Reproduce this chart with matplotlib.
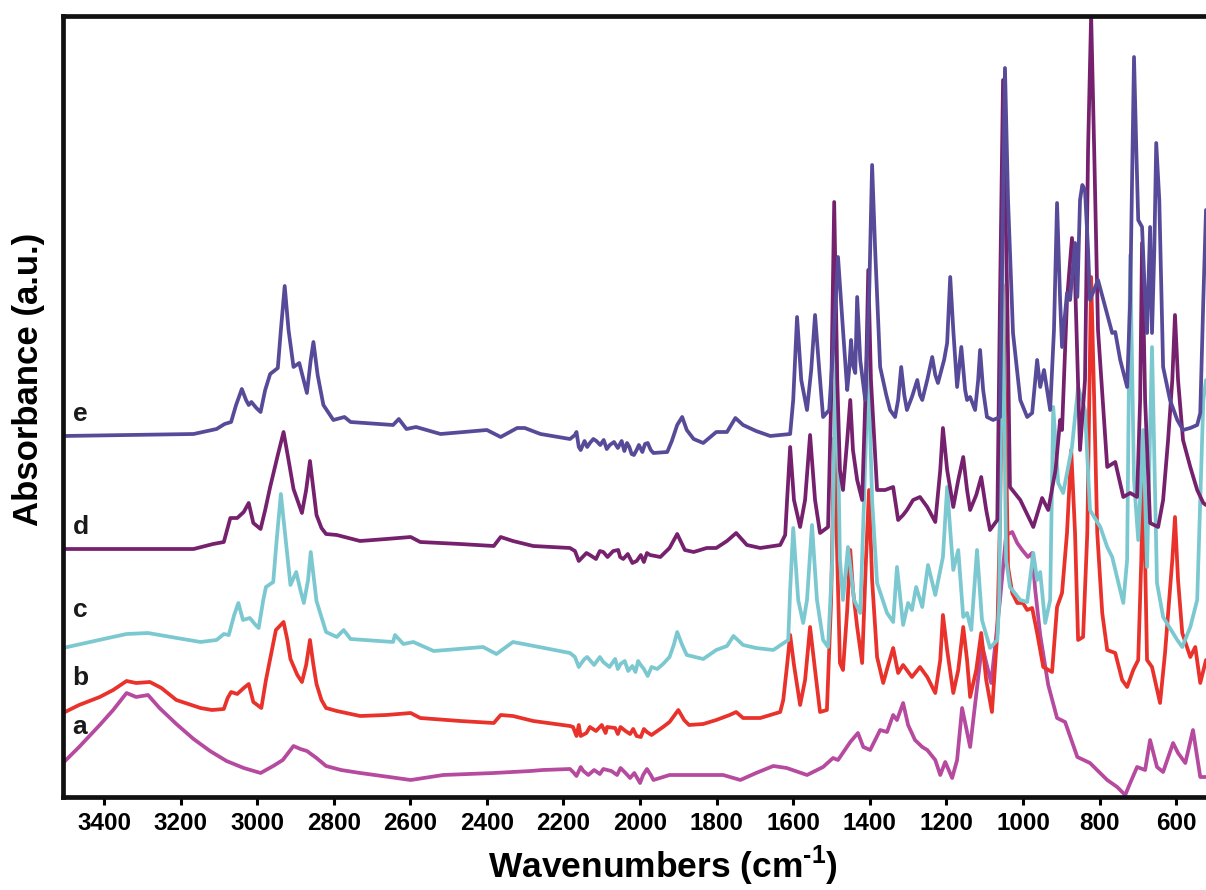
import matplotlib
matplotlib.use("Agg")
import matplotlib.pyplot as plt

plt.rcParams['font.family'] = ['Liberation Sans', 'DejaVu Sans']
plt.rcParams['mathtext.fontset'] = 'custom'
plt.rcParams['mathtext.bf'] = 'Liberation Sans:bold'
plt.rcParams['mathtext.rm'] = 'Liberation Sans'

# ---- spectrum a ----
wn_a = [3507, 3465, 3411, 3376, 3341, 3316, 3285, 3255, 3211, 3166, 3123, 3080, 3035, 2991, 2958, 2933, 2905, 2887,
        2870, 2845, 2820, 2781, 2731, 2655, 2599, 2514, 2382, 2286, 2254,
        2183, 2166, 2148, 2096, 2051, 2026, 2000, 1982, 1965, 1923, 1835, 1783, 1738, 1697, 1652, 1617,
        1564, 1522, 1496, 1483, 1451, 1431, 1417, 1399, 1373,
        1355, 1339, 1329, 1313, 1300, 1282, 1263, 1250, 1229, 1216, 1203, 1185, 1172, 1159, 1138, 1107, 1083, 1060,
        1044, 1028, 1015, 1002, 987, 976, 968, 955, 934, 911, 890, 858, 825, 780, 754, 733, 720, 702, 681, 668, 650,
        634, 608, 595, 576, 556, 537, 522]
abs_a = [34, 50, 72, 87, 104, 100, 102, 89, 73, 58, 46, 36, 29, 24, 31, 37, 51, 48,
         46, 39, 31, 27, 24, 20, 17, 22, 24, 26, 27,
         28, 21, 26, 28, 29, 19, 14, 28, 17, 22, 22, 22, 17, 24, 31, 29,
         22, 30, 39, 37, 55, 64, 50, 47, 67,
         65, 82, 77, 94, 72, 57, 50, 47, 37, 22, 35, 19, 37, 89, 50, 152, 114, 197,
         262, 265, 254, 247, 240, 244, 207, 162, 112, 79, 75, 40, 34, 17, 10, 2, 14, 30, 27, 57, 30,
         25, 54, 44, 34, 67, 20, 20]
wn_a_noise = [2175, 2155, 2135, 2120, 2105, 2075, 2060, 2038, 2015, 1992, 1972]
abs_a_noise = [25, 30, 22, 27, 23, 26, 22, 24, 24, 22, 22]

# ---- spectrum b ----
wn_b = [3507, 3465, 3411, 3376, 3341, 3316, 3280, 3250, 3211, 3148, 3118, 3087, 3077, 3068, 3052, 3035, 3022, 3010,
        2989, 2977, 2966, 2951, 2931, 2921, 2913, 2895, 2883, 2872, 2862, 2853, 2845, 2832, 2820, 2792, 2731, 2663,
        2599, 2574, 2470, 2382, 2364, 2332, 2279,
        2183, 2166, 2155, 2131, 2086, 2051, 2026, 2009, 1982, 1940, 1923,
        1900, 1885, 1872, 1835, 1801, 1766, 1749, 1731, 1686, 1634, 1626, 1616, 1608, 1598, 1582, 1569, 1556, 1543,
        1530, 1512, 1501, 1493, 1485, 1478, 1470, 1459, 1451, 1444, 1433, 1420, 1410, 1402, 1394, 1381, 1365, 1352,
        1339, 1326, 1313, 1290, 1269, 1250, 1229, 1216, 1209, 1198, 1182, 1169, 1156, 1146, 1138, 1122, 1109, 1096,
        1081, 1067, 1060, 1052, 1044, 1039, 1028, 1015, 1000, 989, 976, 963, 947, 924, 911, 898, 885, 874, 864, 856,
        843, 832, 822, 814, 806, 793, 780, 759, 741, 728, 712, 699, 691, 686, 681, 676, 663, 642, 629, 610, 603, 595,
        584, 563, 550, 537, 522]
abs_b = [84, 92, 100, 107, 116, 114, 115, 109, 97, 89, 87, 88, 99, 105, 103, 109, 113, 95,
         89, 117, 138, 167, 175, 157, 138, 122, 115, 132, 157, 132, 113, 97, 89, 86, 81, 82,
         84, 79, 76, 74, 82, 81, 76,
         71, 61, 61, 70, 70, 70, 63, 61, 65, 70, 75,
         87, 77, 72, 73, 77, 82, 85, 79, 79, 85, 97, 132, 162, 132, 92, 117, 170, 127,
         85, 87, 197, 359, 237, 134, 127, 187, 247, 207, 170, 134, 237, 307, 217, 140, 114, 132,
         149, 124, 132, 120, 130, 120, 104, 137, 182, 147, 104, 127, 170, 137, 100, 127, 164, 117,
         85, 164, 277, 512, 347, 230, 204, 194, 194, 187, 189, 164, 130, 125, 190, 204, 264, 347, 264, 157,
         160, 264, 520, 397, 264, 184, 147, 144, 117, 110, 127, 137, 237, 330, 237, 137, 130, 94, 144, 237, 280, 217,
         164, 140, 150, 114, 137]
wn_b_noise = [2175, 2160, 2140, 2115, 2100, 2090, 2065, 2058, 2038, 2018, 1998, 1990, 1970]
abs_b_noise = [70, 72, 64, 66, 72, 64, 69, 63, 66, 68, 60, 68, 62]

# ---- spectrum c ----
wn_c = [3507, 3413, 3341, 3285, 3225, 3148, 3106, 3087, 3074, 3060, 3049, 3037, 3019, 3004, 2996, 2984, 2977, 2958,
        2949, 2938, 2928, 2913, 2898, 2887, 2878, 2867, 2860, 2853, 2845, 2820, 2792, 2774, 2756, 2645, 2640, 2618,
        2592, 2539, 2410, 2375, 2332, 2304,
        2183, 2155, 2138, 2096, 2051, 2031, 2000, 1980, 1940, 1923, 1912, 1903,
        1890, 1878, 1835, 1801, 1773, 1756, 1731, 1697, 1652, 1613, 1608, 1600, 1587, 1574, 1564, 1551, 1538, 1522,
        1509, 1498, 1488, 1478, 1470, 1457, 1441, 1425, 1415, 1404, 1394, 1381, 1355, 1339, 1329, 1313, 1300, 1290,
        1279, 1263, 1248, 1229, 1209, 1198, 1190, 1182, 1169, 1156, 1146, 1135, 1120, 1107, 1086, 1067, 1062, 1054,
        1044, 1034, 1007, 989, 973, 963, 955, 942, 929, 921, 908, 895, 872, 856, 838, 825, 798, 780, 767, 738, 728,
        720, 710, 699, 686, 676, 663, 650, 634, 597, 584, 563, 545, 537, 529, 522]
abs_c = [149, 157, 163, 164, 160, 155, 157, 163, 162, 182, 194, 177, 179, 172, 169, 197, 210, 215,
         257, 303, 267, 212, 225, 207, 194, 217, 245, 222, 196, 165, 160, 167, 158, 155, 162, 153,
         155, 146, 150, 143, 155, 153,
         144, 133, 140, 135, 133, 126, 133, 121, 133, 140, 152, 165,
         152, 142, 138, 147, 151, 161, 152, 149, 147, 157, 207, 269, 197, 174, 197, 272, 197, 157,
         150, 237, 467, 237, 197, 250, 197, 184, 297, 432, 297, 214, 184, 175, 230, 172, 194, 187,
         210, 190, 232, 202, 240, 310, 267, 227, 247, 180, 184, 167, 247, 177, 149, 157, 197, 550,
         237, 210, 197, 195, 244, 217, 225, 174, 197, 390, 314, 304, 350, 410, 387, 287, 270, 250, 240, 194, 237,
         542, 317, 257, 367, 230, 450, 214, 180, 157, 150, 170, 197, 297, 397, 417]
wn_c_noise = [2170, 2160, 2145, 2120, 2105, 2080, 2065, 2058, 2040, 2020, 2012, 2005, 1990, 1970, 1955]
abs_c_noise = [140, 130, 138, 132, 140, 130, 138, 128, 136, 131, 125, 136, 128, 130, 128]

# ---- spectrum d ----
wn_d = [3507, 3166, 3115, 3087, 3070, 3052, 3035, 3022, 3010, 2991, 2979, 2966, 2946, 2931, 2918, 2905, 2892, 2883,
        2872, 2862, 2853, 2845, 2832, 2820, 2792, 2731, 2663, 2599, 2574, 2470, 2382, 2364, 2332, 2279,
        2183, 2155, 2131, 2096, 2057, 2044, 2009, 1974, 1947, 1923, 1903, 1883, 1860, 1826, 1801, 1773, 1749, 1721,
        1686, 1634,
        1621, 1616, 1608, 1598, 1582, 1569, 1556, 1543, 1530, 1509, 1501, 1493, 1485, 1478, 1470, 1459, 1451, 1444,
        1433, 1420, 1410, 1404, 1397, 1381, 1360, 1339, 1326, 1313, 1303, 1287, 1269, 1250, 1229, 1216, 1209, 1198,
        1182, 1169, 1156, 1146, 1138, 1122, 1109, 1096, 1086, 1067, 1060, 1052, 1041, 1034, 1007, 973, 950, 934, 915,
        903, 898, 885, 872, 864, 851, 838, 830, 822, 814, 804, 780, 759, 738, 720, 702, 694, 689, 681, 668, 647, 634,
        621, 610, 603, 595, 582, 563, 545, 529, 522]
abs_d = [248, 248, 253, 255, 279, 279, 285, 294, 274, 268, 287, 310, 342, 365, 337, 308, 294, 284,
         307, 336, 307, 282, 269, 263, 262, 256, 258, 260, 255, 253, 251, 260, 256, 251,
         249, 238, 242, 245, 247, 238, 236, 242, 240, 249, 263, 247, 245, 249, 249, 256, 264, 252,
         249, 252,
         262, 297, 350, 297, 270, 297, 362, 297, 264, 270, 397, 595, 417, 327, 307, 357, 397, 347,
         317, 297, 417, 527, 417, 307, 307, 310, 277, 282, 287, 297, 300, 290, 275, 327, 369, 327,
         290, 317, 340, 307, 287, 302, 320, 287, 267, 277, 497, 717, 497, 310, 297, 270, 299, 287, 327,
         377, 367, 497, 559, 517, 347, 417, 647, 782, 647, 467, 330, 335, 300, 304, 300, 397, 554, 397, 274, 270, 297,
         357, 417, 482, 417, 357, 330, 307, 294, 292]
wn_d_noise = [2170, 2160, 2140, 2115, 2105, 2085, 2070, 2052, 2032, 2020, 1998, 1990, 1982]
abs_d_noise = [246, 236, 244, 238, 246, 240, 246, 240, 243, 234, 242, 235, 244]

# ---- spectrum e ----
wn_e = [3507, 3166, 3106, 3085, 3068, 3055, 3040, 3029, 3022, 3015, 3002, 2991, 2979, 2966, 2946, 2938, 2928, 2918,
        2905, 2890, 2880, 2870, 2860, 2853, 2842, 2827, 2801, 2772, 2756, 2645, 2630, 2610, 2585, 2521, 2400, 2364,
        2321, 2301, 2260,
        2183, 2166, 2155, 2131, 2114, 2079, 2034, 2022, 2009, 1980, 1965, 1929, 1917, 1903, 1890,
        1878, 1860, 1835, 1801, 1773, 1751, 1731, 1697, 1660, 1608, 1600, 1590, 1579, 1564, 1553, 1543, 1532, 1522,
        1506, 1496, 1483, 1470, 1459, 1454, 1449, 1444, 1438, 1433, 1425, 1412, 1402, 1394, 1386, 1373, 1357, 1347,
        1334, 1326, 1318, 1310, 1303, 1290, 1276, 1269, 1263, 1250, 1237, 1229, 1222, 1206, 1198, 1190, 1182, 1172,
        1161, 1151, 1146, 1138, 1125, 1117, 1112, 1104, 1094, 1078, 1060, 1052, 1047, 1039, 1026, 1007, 989, 976,
        963, 955, 945, 929, 919, 911, 903, 898, 885, 877, 864, 858, 851, 845, 838, 830, 825, 804, 785, 767, 759, 746,
        728, 720, 710, 704, 699, 689, 681, 676, 668, 663, 657, 652, 644, 634, 616, 597, 582, 563, 545, 537, 529, 522]
abs_e = [361, 363, 368, 373, 375, 392, 408, 397, 392, 395, 389, 385, 407, 423, 429, 467, 511, 467,
         430, 434, 419, 404, 437, 455, 422, 392, 377, 380, 375, 372, 378, 368, 370, 363, 367, 360,
         369, 369, 363,
         358, 365, 347, 354, 356, 352, 354, 343, 347, 354, 344, 345, 356, 372, 380,
         367, 358, 354, 365, 365, 379, 372, 366, 361, 363, 397, 480, 417, 387, 427, 482, 427, 380,
         387, 447, 540, 467, 407, 427, 457, 432, 424, 500, 437, 397, 497, 632, 547, 430, 402, 387,
         380, 397, 430, 402, 387, 400, 417, 402, 397, 417, 440, 422, 414, 437, 454, 520, 467, 410,
         450, 407, 397, 400, 387, 417, 447, 407, 380, 377, 380, 597, 729, 597, 464, 397, 380, 384,
         437, 410, 427, 387, 467, 594, 497, 450, 504, 497, 554, 500, 597, 612, 607, 547, 497, 517, 490, 464, 465, 437,
         410, 497, 740, 647, 577, 570, 497, 464, 570, 464, 547, 654, 597, 430, 397, 377, 367, 369, 372, 384, 497, 587]
wn_e_noise = [2170, 2160, 2145, 2138, 2122, 2104, 2095, 2087, 2068, 2058, 2048, 2041, 2028, 2016, 2003, 1994,
              1987, 1972]
abs_e_noise = [362, 350, 356, 350, 358, 352, 357, 348, 355, 349, 356, 346, 350, 342, 352, 345, 353, 347]


def merged(wn, ab, wn_n, ab_n):
    pts = sorted(zip(list(wn) + list(wn_n), list(ab) + list(ab_n)), key=lambda p: -p[0])
    return [p[0] for p in pts], [p[1] for p in pts]


series = [
    (merged(wn_a, abs_a, wn_a_noise, abs_a_noise), '#B54A9E', 'a'),
    (merged(wn_b, abs_b, wn_b_noise, abs_b_noise), '#E8322B', 'b'),
    (merged(wn_c, abs_c, wn_c_noise, abs_c_noise), '#7CC8D0', 'c'),
    (merged(wn_d, abs_d, wn_d_noise, abs_d_noise), '#76216E', 'd'),
    (merged(wn_e, abs_e, wn_e_noise, abs_e_noise), '#574B99', 'e'),
]
label_pos = {'a': 70, 'b': 119, 'c': 187, 'd': 270, 'e': 383}

fig = plt.figure(figsize=(12.06, 8.90), dpi=100)
ax = fig.add_axes([63 / 1206, 1 - 797 / 890, 1 - 63 / 1206, (797 - 16) / 890])

for (wn, ab), col, lab in series:
    ax.plot(wn, ab, color=col, lw=2.7, solid_joinstyle='round', solid_capstyle='round')
    ax.text(3482, label_pos[lab], lab, fontsize=19, fontweight='bold', color='#1a1a1a',
            ha='left', va='center')

ax.set_xlim(3507, 522)
ax.set_ylim(0, 781)
ax.set_xticks([3400, 3200, 3000, 2800, 2600, 2400, 2200, 2000, 1800, 1600, 1400, 1200, 1000, 800, 600])
ax.set_yticks([])
ax.tick_params(axis='x', direction='out', length=6, width=2.2, labelsize=17.5, pad=5)
for lbl in ax.get_xticklabels():
    lbl.set_fontweight('bold')
for side in ['left', 'bottom', 'top']:
    ax.spines[side].set_linewidth(3.4)
    ax.spines[side].set_color('#111111')
ax.spines['right'].set_visible(False)

ax.set_xlabel('Wavenumbers (cm$^{\\mathbf{\u20101}}$)', fontsize=25.5, fontweight='bold')
ax.set_ylabel('Absorbance (a.u.)', fontsize=25, fontweight='bold')
ax.xaxis.set_label_coords(0.525, -0.060)
ax.yaxis.set_label_coords(-0.016, 0.535)

fig.savefig('out.png', dpi=100)
